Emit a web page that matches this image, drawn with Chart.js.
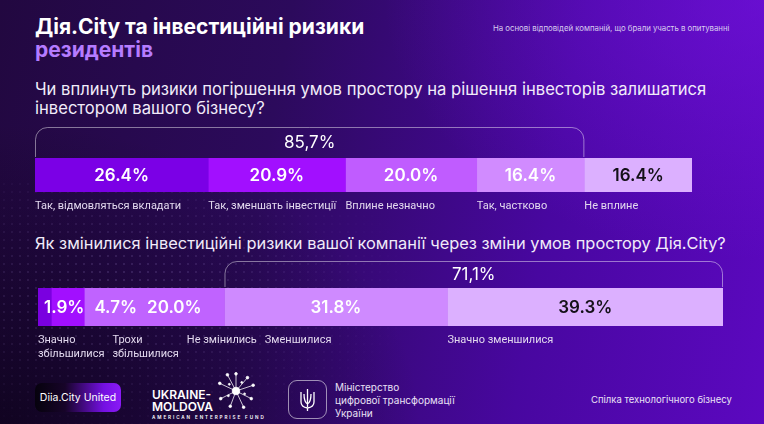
<!DOCTYPE html>
<html lang="uk">
<head>
<meta charset="utf-8">
<script src="https://cdn.jsdelivr.net/npm/chart.js@4.4.1/dist/chart.umd.min.js"></script>
<style>
  html, body { margin: 0; padding: 0; }
  body {
    width: 764px; height: 424px; overflow: hidden; position: relative;
    font-family: Inter, 'Noto Sans', sans-serif; color: #fff;
    background:
      radial-gradient(ellipse 420px 300px at 0% 100%, rgba(10, 2, 20, 0.75), rgba(10, 2, 20, 0) 100%),
      radial-gradient(ellipse 380px 260px at 100% 0%, rgba(120, 20, 230, 0.55), rgba(120, 20, 230, 0) 100%),
      linear-gradient(100deg, #220840 0%, #2c0a5c 35%, #4807a0 70%, #5c08c0 100%);
  }
  .dots {
    position: absolute; left: 0; top: 180px; width: 420px; height: 244px;
    background-image: radial-gradient(circle, rgba(200, 170, 255, 0.16) 1px, transparent 1.6px);
    background-size: 8px 8px;
    -webkit-mask-image: radial-gradient(ellipse 300px 160px at 30% 45%, #000 0%, transparent 100%);
    mask-image: radial-gradient(ellipse 300px 160px at 30% 45%, #000 0%, transparent 100%);
  }
  .abs { position: absolute; white-space: nowrap; }
  .title { left: 35px; top: 15px; font-size: 21px; font-weight: 700; line-height: 23px; }
  .title span { color: #b57bff; }
  .note { left: 493px; top: 23px; font-size: 7.8px; color: #d9cdef; }
  .q { left: 35px; font-size: 16.4px; line-height: 19px; color: #f1ebf9; }
  canvas { position: absolute; left: 0; }
  .diia {
    left: 35px; top: 383px; width: 86px; height: 29px; border-radius: 7px;
    background: linear-gradient(90deg, #06020d 0%, #170429 35%, #7410e2 80%, #8a1af6 100%);
    font-size: 10.5px; line-height: 29px; text-align: center;
  }
  .um { left: 152px; top: 389px; font-size: 12px; font-weight: 600; line-height: 12px; }
  .um small { display: block; font-size: 4.6px; letter-spacing: 1.9px; line-height: 8px; margin-top: 1px; font-weight: 600; }
  .emb { left: 288px; top: 380px; width: 37px; height: 37px; border: 1px solid rgba(255,255,255,0.55); border-radius: 9px; }
  .min { left: 335px; top: 381px; font-size: 10px; line-height: 13px; color: #e9e1f5; }
  .sp { left: 591px; top: 394px; font-size: 9.5px; color: #e9e1f5; }
</style>
</head>
<body>
<div class="dots"></div>

<div class="abs title">Дія.City та інвестиційні ризики<br><span>резидентів</span></div>
<div class="abs note">На основі відповідей компаній, що брали участь в опитуванні</div>

<div class="abs q" style="top:80px;font-size:16.6px">Чи вплинуть ризики погіршення умов простору на рішення інвесторів залишатися<br>інвестором вашого бізнесу?</div>
<canvas id="c1" width="764" height="112" style="top:118px"></canvas>

<div class="abs q" style="top:234px">Як змінилися інвестиційні ризики вашої компанії через зміни умов простору Дія.City?</div>
<canvas id="c2" width="764" height="116" style="top:250px"></canvas>

<div class="abs diia">Diia.City United</div>
<div class="abs um">UKRAINE-<br>MOLDOVA<small>AMERICAN ENTERPRISE FUND</small></div>
<svg class="abs" style="left:215px;top:370px" width="42" height="42" viewBox="0 0 44 44">
  <g stroke="#fff" stroke-width="0.8" fill="#fff">
    <line x1="22" y1="22" x2="22" y2="4"/><line x1="22" y1="22" x2="34" y2="8"/>
    <line x1="22" y1="22" x2="40" y2="16"/><line x1="22" y1="22" x2="38" y2="30"/>
    <line x1="22" y1="22" x2="30" y2="39"/><line x1="22" y1="22" x2="16" y2="38"/>
    <line x1="22" y1="22" x2="6" y2="30"/><line x1="22" y1="22" x2="5" y2="14"/>
    <line x1="22" y1="22" x2="13" y2="5"/>
    <circle cx="22" cy="22" r="4"/>
    <circle cx="22" cy="4" r="1.4"/><circle cx="34" cy="8" r="1.4"/><circle cx="40" cy="16" r="1.4"/>
    <circle cx="38" cy="30" r="1.4"/><circle cx="30" cy="39" r="1.4"/><circle cx="16" cy="38" r="1.4"/>
    <circle cx="6" cy="30" r="1.4"/><circle cx="5" cy="14" r="1.4"/><circle cx="13" cy="5" r="1.4"/>
    <circle cx="28" cy="13" r="1"/><circle cx="31" cy="25" r="1"/><circle cx="14" cy="27" r="1"/><circle cx="15" cy="15" r="1"/>
  </g>
</svg>
<div class="abs emb">
  <svg width="37" height="37" viewBox="0 0 37 37">
    <path d="M18.5 8 v18 M12 11 v10 q0 5 6.5 6 q6.5 -1 6.5 -6 v-10 M15 13 q0 8 3.5 10 q3.5 -2 3.5 -10 M18.5 27 v3"
          stroke="#fff" stroke-width="1.3" fill="none"/>
  </svg>
</div>
<div class="abs min">Міністерство<br>цифрової трансформації<br>України</div>
<div class="abs sp">Спілка технологічного бізнесу</div>

<script>
// question 1
const Q1_LABELS = ['Так, відмовляться вкладати', 'Так, зменшать інвестиції', 'Вплине незначно', 'Так, частково', 'Не вплине'];
const Q1_VALUES = [26.4, 20.9, 20.0, 16.4, 16.4];
const Q1_COLORS = ['#7b00e6', '#a20fff', '#c05cff', '#d18bff', '#dcb0ff'];
const Q1_TOTAL = '85,7%';
const Q1_BRACKET = [0, 3];

// question 2
const Q2_LABELS = ['Значно\nзбільшилися', 'Трохи\nзбільшилися', 'Не змінились', 'Зменшилися', 'Значно зменшилися'];
const Q2_VALUES = [1.9, 4.7, 20.0, 31.8, 39.3];
const Q2_COLORS = ['#7a00e0', '#a20fff', '#c063ff', '#cf8aff', '#dcb0ff'];
const Q2_TOTAL = '71,1%';
const Q2_BRACKET = [3, 4];

const FONT = "Inter, 'Noto Sans', sans-serif";
const CAPTION_FONT = "11px Roboto, 'Noto Sans', sans-serif";

// bracket over a group of segments, value text in each segment, caption under it
const segmentText = {
  id: 'segmentText',
  afterDatasetsDraw(chart, args, opts) {
    const ctx = chart.ctx;
    const area = chart.chartArea;
    const els = chart.data.datasets.map((d, i) =>
      chart.getDatasetMeta(i).data[0].getProps(['x', 'y', 'base', 'height'], true));

    ctx.save();
    // bracket
    const left = els[opts.bracket[0]].base + 0.5;
    const right = els[opts.bracket[1]].x - 0.5;
    const top = area.top - opts.bracketHeight + 0.5;
    const bottom = area.top - 1;
    ctx.strokeStyle = 'rgba(255, 255, 255, 0.45)';
    ctx.lineWidth = 1;
    ctx.beginPath();
    ctx.moveTo(left, bottom);
    ctx.arcTo(left, top, right, top, 12);
    ctx.arcTo(right, top, right, bottom, 12);
    ctx.lineTo(right, bottom);
    ctx.stroke();
    ctx.fillStyle = '#fff';
    ctx.font = '17px ' + FONT;
    ctx.textAlign = 'center';
    ctx.textBaseline = 'middle';
    ctx.fillText(opts.total, (left + right) / 2, top + opts.totalOffset);

    // values inside the bar, nudged right when a segment is too narrow
    ctx.font = '600 17px ' + FONT;
    let prevRight = area.left - 4;
    els.forEach((el, i) => {
      const txt = chart.data.datasets[i].data[0].toFixed(1) + '%';
      const w = ctx.measureText(txt).width;
      const cx = Math.max((el.base + el.x) / 2, prevRight + 10 + w / 2);
      ctx.fillStyle = i === els.length - 1 ? '#141018' : '#fff';
      ctx.fillText(txt, cx, el.y + 1);
      prevRight = cx + w / 2;
    });

    // captions under the bar
    ctx.font = CAPTION_FONT;
    ctx.textAlign = 'left';
    ctx.fillStyle = '#e2d8ee';
    let prev = -Infinity;
    els.forEach((el, i) => {
      const lines = chart.data.datasets[i].label.split('\n');
      const x = Math.max(el.base, prev + 8);
      let maxW = 0;
      lines.forEach((ln, k) => {
        ctx.fillText(ln, x, area.bottom + 14 + k * 14);
        maxW = Math.max(maxW, ctx.measureText(ln).width);
      });
      prev = x + maxW;
    });
    ctx.restore();
  }
};

function makeBar(id, labels, values, colors, padding, extra) {
  return new Chart(document.getElementById(id), {
    type: 'bar',
    data: {
      labels: [''],
      datasets: values.map((v, i) => ({
        label: labels[i],
        data: [v],
        backgroundColor: colors[i],
        borderWidth: 0,
        categoryPercentage: 1,
        barPercentage: 1,
      }))
    },
    options: {
      indexAxis: 'y',
      responsive: false,
      animation: false,
      layout: { padding },
      plugins: {
        legend: { display: false },
        tooltip: { enabled: false },
        segmentText: extra,
      },
      scales: {
        x: { stacked: true, display: false, min: 0, max: values.reduce((a, b) => a + b, 0) },
        y: { stacked: true, display: false },
      }
    },
    plugins: [segmentText]
  });
}

makeBar('c1', Q1_LABELS, Q1_VALUES, Q1_COLORS,
  { left: 35, right: 72, top: 40, bottom: 38 },
  { bracket: Q1_BRACKET, total: Q1_TOTAL, bracketHeight: 31, totalOffset: 15 });

makeBar('c2', Q2_LABELS, Q2_VALUES, Q2_COLORS,
  { left: 38, right: 41, top: 38, bottom: 40 },
  { bracket: Q2_BRACKET, total: Q2_TOTAL, bracketHeight: 27, totalOffset: 13 });
</script>
</body>
</html>
